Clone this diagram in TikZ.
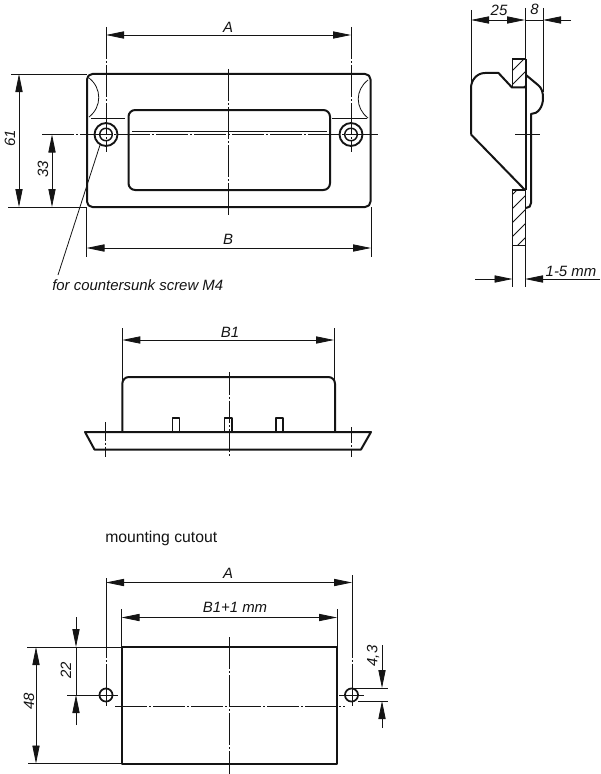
\documentclass[tikz,border=0pt]{standalone}
\usepackage{fontspec}
\setmainfont{Liberation Sans}
\usetikzlibrary{arrows.meta}
\definecolor{ink}{gray}{0.08}
\tikzset{
  x=0.75pt,y=-0.75pt,
  outline/.style={line width=1.5pt,draw=ink,line join=round},
  thinl/.style={line width=0.6pt,draw=ink},
  hatchl/.style={line width=0.55pt,draw=ink},
  chain/.style={line width=0.6pt,draw=ink,dash pattern=on 24pt off 1.5pt on 1.5pt off 1.5pt},
  dimb/.style={thinl,{Triangle[length=13.5pt,width=5.4pt]}-{Triangle[length=13.5pt,width=5.4pt]}},
  dimh/.style={thinl,-{Triangle[length=13.5pt,width=5.4pt]}},
  lbl/.style={inner sep=0pt,font=\fontsize{11.2pt}{13pt}\selectfont\itshape,text=ink},
  lblr/.style={lbl,rotate=90},
  plain/.style={inner sep=0pt,font=\fontsize{11.8pt}{13pt}\selectfont,text=ink}
}
\begin{document}
\begin{tikzpicture}
\useasboundingbox[fill=white] (0,0) rectangle (600,774);

% ===== front view =====
\draw[chain] (228.5,69) -- (228.5,215);
\draw[chain] (42,134.5) -- (378,134.5);
\draw[chain] (106,27) -- (106,152);
\draw[chain] (351,27) -- (351,152);
\draw[outline,rounded corners=4pt] (87,74) rectangle (370.5,207);
\draw[outline,rounded corners=5pt] (128.5,110) rectangle (330,190);
\draw[thinl] (89,78) .. controls (102,88) and (102,107) .. (89,117);
\draw[thinl] (368,80) .. controls (355,90) and (355,108) .. (368,118);
\draw[thinl] (91,118) -- (125,118);
\draw[thinl] (332,118.5) -- (367,118.5);
\draw[thinl] (132,131.7) -- (327,131.7);
\foreach \cx in {106,351}{
  \draw[outline,line width=1.4pt] (\cx,134.5) circle[radius=8.6pt];
  \draw[outline,line width=1.1pt] (\cx,134.5) circle[radius=4.7pt];
}
% dimensions
\draw[dimb] (106,35) -- (351,35);
\node[lbl] (tA) at (228,27) {A};
\draw[thinl] (86.5,207) -- (86.5,257);
\draw[thinl] (371,207) -- (371,257);
\draw[dimb] (86.5,248) -- (371,248);
\node[lbl] (tB) at (228,239.5) {B};
\draw[thinl] (11,74) -- (87,74);
\draw[thinl] (8,207) -- (87,207);
\draw[dimb] (19,74) -- (19,207);
\node[lblr] (t61) at (10,138) {61};
\draw[dimb] (52,134.5) -- (52,207);
\node[lblr] (t33) at (43,169) {33};
\draw[thinl] (100,145) -- (58,275);
\node[lbl,anchor=west] (tscrew) at (52,285.5) {for countersunk screw M4};

% ===== side view =====
\draw[thinl] (471,10) -- (471,85);
\draw[thinl] (525,8) -- (525,59);
\draw[thinl] (543,8) -- (543,92);
\draw[dimb] (471,20) -- (525,20);
\draw[thinl] (525,20) -- (543,20);
\draw[dimh] (571,20) -- (543,20);
\node[lbl] (t25) at (499,10) {25};
\node[lbl] (t8) at (534.5,9) {8};
% wall sections
\begin{scope}
  \clip (512.5,59) rectangle (525,87.5);
  \foreach \o in {0,14,...,56}{\draw[hatchl] (505,{78+\o}) -- (530,{53+\o});}
\end{scope}
\begin{scope}
  \clip (512.5,190) rectangle (525,245.5);
  \foreach \o in {0,14,...,84}{\draw[hatchl] (505,{202+\o}) -- (530,{177+\o});}
\end{scope}
\draw[line width=1.1pt,draw=ink] (512.5,87.5) -- (512.5,59) -- (525.5,59);
\draw[line width=1.1pt,draw=ink] (525.5,190) -- (512.5,190) -- (512.5,245.5) -- (525.5,245.5);
% body
\draw[outline] (471,134.5) -- (471,88) .. controls (471,80) and (477,73) .. (485,73)
   -- (498.5,73) -- (512,87.5) -- (526,87.5);
\draw[outline] (471,134.5) -- (525,190);
\draw[outline] (526,59) -- (526,87.5);
\draw[outline] (526,87.5) -- (526,190);
\draw[thinl,line width=0.8pt] (525.5,190) -- (525.5,245.5);
% front plate
\draw[outline] (526,75) -- (538,85) .. controls (542,88) and (543,93) .. (543,98)
   .. controls (543,107) and (538,114) .. (531,114) -- (531,203)
   .. controls (531,206) and (529,208) .. (526,208);
\draw[thinl] (515,134.5) -- (540,134.5);
% 1-5 mm
\draw[thinl] (512.5,245) -- (512.5,287);
\draw[thinl] (525,245) -- (525,287);
\draw[dimh] (475,279) -- (512.5,279);
\draw[dimh] (600,279) -- (525,279);
\node[lbl] (t15) at (571,271) {1-5 mm};

% ===== top view =====
\draw[thinl] (122.3,328) -- (122.3,380);
\draw[thinl] (334,328) -- (334,380);
\draw[dimb] (122.3,340) -- (334,340);
\node[lbl] (tB1) at (230,332) {B1};
\draw[outline,rounded corners=5pt] (122.3,432) -- (122.3,377) -- (335,377) -- (335,432);
\draw[outline] (85,432) -- (371,432) -- (361,449.5) -- (94.5,449.5) -- cycle;
\draw[outline,line width=1.1pt] (172.5,432) -- (172.5,418) -- (179.5,418) -- (179.5,432);
\draw[outline,line width=1.1pt] (224.5,432) -- (224.5,418) -- (232,418) -- (232,432);
\draw[outline,line width=1.1pt] (276,432) -- (276,418) -- (283,418) -- (283,432);
\draw[chain,dash pattern=on 17pt off 1.5pt on 1.5pt off 1.5pt] (229,372) -- (229,457);
\draw[chain,dash pattern=on 14pt off 1.5pt on 1.5pt off 1.5pt] (105.5,422) -- (105.5,457);
\draw[chain,dash pattern=on 12pt off 1.5pt on 1.5pt off 1.5pt] (351.5,427) -- (351.5,457);

% ===== cutout =====
\node[plain,anchor=west] (tcut) at (105,538) {mounting cutout};
\draw[chain] (229,637) -- (229,774);
\draw[chain] (115,706) -- (345,706);
\draw[outline] (121.5,647) rectangle (337,763.5);
\draw[thinl,dash pattern=on 60pt off 1.5pt on 1.5pt off 1.5pt] (106,578) -- (106,706);
\draw[thinl,dash pattern=on 62pt off 1.5pt on 1.5pt off 1.5pt] (352,575) -- (352,706);
\draw[thinl] (67,695) -- (118,695);
\draw[thinl] (339,695) -- (364,695);
\foreach \cx in {106,351.5}{
  \draw[outline,line width=1.3pt] (\cx,695) circle[radius=4.9pt];
}
\draw[dimb] (106,582.5) -- (352,582.5);
\node[lbl] (tA2) at (228,573.5) {A};
\draw[thinl] (121.5,609) -- (121.5,647);
\draw[thinl] (337,609) -- (337,647);
\draw[dimb] (121.5,617.5) -- (337,617.5);
\node[lbl] (tB11) at (235,607.5) {B1+1 mm};
\draw[thinl] (27,647) -- (122,647);
\draw[thinl] (28,763.5) -- (122,763.5);
\draw[dimb] (36,647) -- (36,763.5);
\node[lblr] (t48) at (29,701) {48};
\draw[dimh] (76,617) -- (76,647);
\draw[thinl] (76,647) -- (76,695);
\draw[dimh] (76,725) -- (76,695);
\node[lblr] (t22) at (66,670) {22};
\draw[thinl] (354,688) -- (388,688);
\draw[thinl] (358,701) -- (388,701);
\draw[dimh] (382,645) -- (382,688);
\draw[dimh] (382,728) -- (382,701);
\node[lblr] (t43) at (373,656) {4,3};
\end{tikzpicture}
\end{document}
